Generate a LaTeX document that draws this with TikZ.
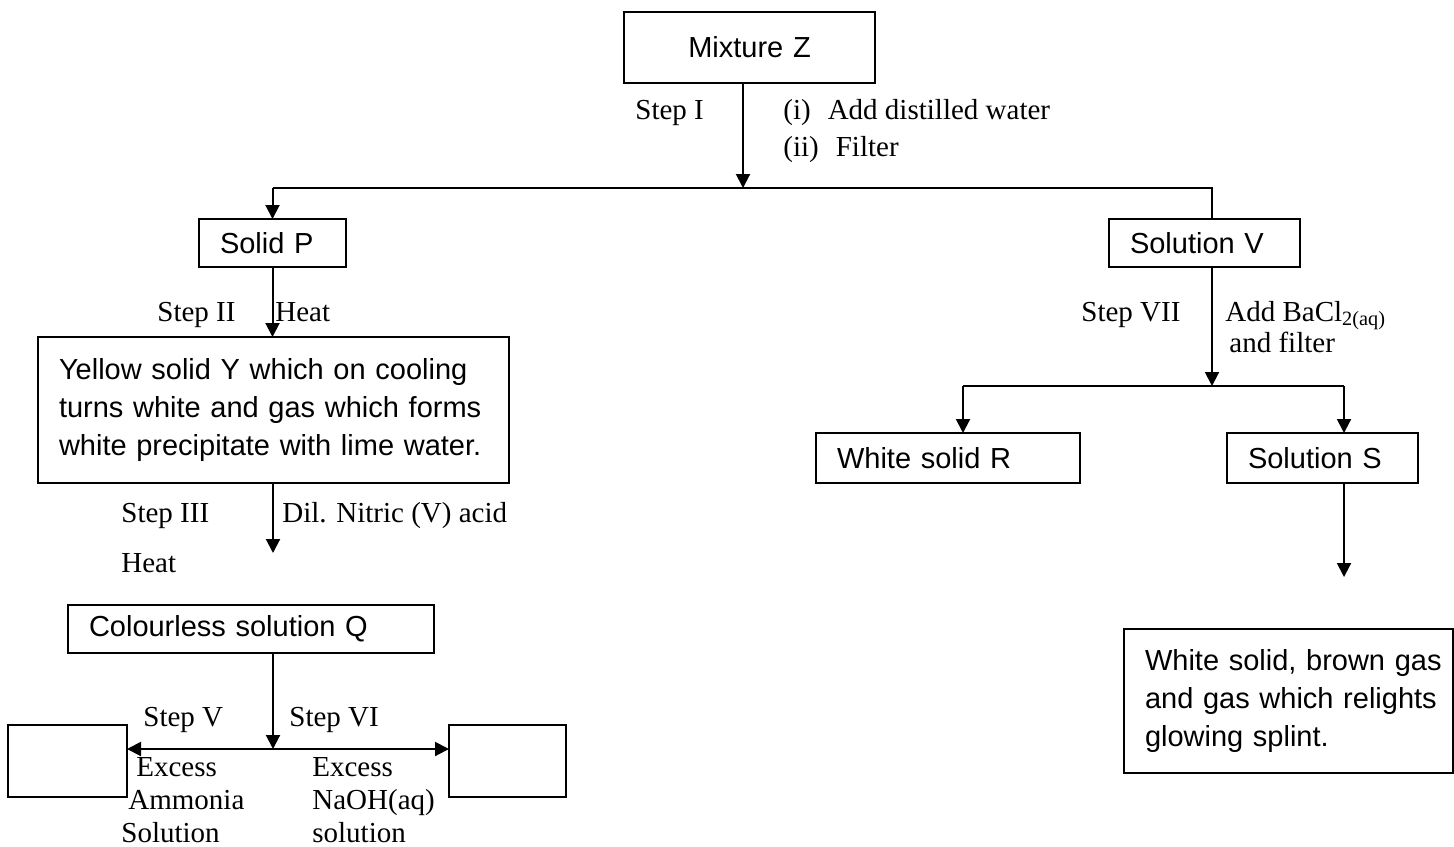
\documentclass[tikz,border=0pt]{standalone}
\usepackage{fontspec}
\setmainfont{Liberation Serif}
\newfontfamily\boxfont{Liberation Sans}
\usetikzlibrary{arrows.meta}

\begin{document}
\begin{tikzpicture}[x=0.5pt, y=-0.5pt]
  \tikzset{stage/.style = {draw, line width=0.75pt, anchor=north west, inner xsep=10.5pt, inner ysep=0pt, outer sep=0pt, align=left, font=\boxfont\fontsize{14.5}{19}\selectfont}}
  \tikzset{cond/.style = {anchor=base west, inner sep=0pt, font=\fontsize{14.5}{17}\selectfont}}
  \tikzset{flow/.style = {line width=1pt, -{Triangle[length=7pt,width=7pt]}}}
  \tikzset{link/.style = {line width=1pt}}
  \useasboundingbox (0,0) rectangle (1454,846);

  % boxes
  \node[stage, align=center, minimum width=125.5pt, minimum height=35.5pt, text width=104.5pt] (mixZ) at (624,12) {Mixture Z};
  \node[stage, minimum width=73.5pt, minimum height=24pt, text width=52.5pt] (solidP) at (199,219) {Solid P};
  \node[stage, minimum width=95.5pt, minimum height=24pt, text width=74.5pt] (solV) at (1109,219) {Solution V};
  \node[stage, minimum width=235.5pt, minimum height=73pt, text width=214.5pt] (yellow) at (38,337)
    {Yellow solid Y which on cooling\\turns white and gas which forms\\white precipitate with lime water.};
  \node[stage, minimum width=132pt, minimum height=25pt, text width=111pt] (whiteR) at (816,433) {White solid R};
  \node[stage, minimum width=95.5pt, minimum height=25pt, text width=74.5pt] (solS) at (1227,433) {Solution S};
  \node[stage, minimum width=183pt, minimum height=24pt, text width=162pt] (colQ) at (68,605) {Colourless solution Q};
  \node[stage, minimum width=59.5pt, minimum height=36pt] (blankL) at (8,725) {};
  \node[stage, minimum width=58.5pt, minimum height=36pt] (blankR) at (449,725) {};
  \node[stage, minimum width=164.5pt, minimum height=72pt, text width=143.5pt] (final) at (1124,629)
    {\mbox{White solid, brown gas}\\\mbox{and gas which relights}\\glowing splint.};

  % junctions and loose arrow ends
  \coordinate (split1) at (743,188);
  \coordinate (rjoin) at (1212,188);
  \coordinate (tip3) at (273,553);
  \coordinate (split5) at (273,749);
  \coordinate (split7) at (1212,386);
  \coordinate (rl) at (963,386);
  \coordinate (rr) at (1344,386);
  \coordinate (tip8) at (1344,577);

  % connectors
  \draw[flow] (split1 |- mixZ.south) -- (split1);
  \draw[link] (solidP.north |- split1) -- (rjoin) -- (rjoin |- solV.north);
  \draw[flow] (solidP.north |- split1) -- (solidP.north);
  \draw[flow] (solidP.south) -- (solidP.south |- yellow.north);
  \draw[flow] (tip3 |- yellow.south) -- (tip3);
  \draw[flow] (split5 |- colQ.south) -- (split5);
  \draw[flow] (split5) -- (split5 -| blankL.east);
  \draw[flow] (split5) -- (split5 -| blankR.west);
  \draw[flow] (split7 |- solV.south) -- (split7);
  \draw[link] (rl) -- (rr);
  \draw[flow] (rl) -- (rl |- whiteR.north);
  \draw[flow] (rr) -- (rr |- solS.north);
  \draw[flow] (rr |- solS.south) -- (tip8);

  % step labels
  \node[cond] (s1) at (635,119.5) {Step I};
  \node[cond] (s1a) at (783,119.5) {(i)\hspace{8.5pt}Add distilled water};
  \node[cond] (s1b) at (783,156.5) {(ii)\hspace{8.5pt}Filter};
  \node[cond] (s2) at (157,321.5) {Step II};
  \node[cond] (s2a) at (275,321.5) {Heat};
  \node[cond] (s7) at (1081,321.5) {Step VII};
  \node[cond] (s7a) at (1225,321.5) {Add BaCl\textsubscript{2(aq)}};
  \node[cond] (s7b) at (1229,352.5) {and filter};
  \node[cond] (s3) at (121,522.5) {Step III};
  \node[cond] (s3a) at (282,522.5) {Dil. Nitric (V) acid};
  \node[cond] (s3b) at (121,572.5) {Heat};
  \node[cond] (s5) at (143,726.5) {Step V};
  \node[cond] (s6) at (289,726.5) {Step VI};
  \node[cond] (s5a) at (136,776.5) {Excess};
  \node[cond] (s5b) at (128,809.5) {Ammonia};
  \node[cond] (s5c) at (121,842.5) {Solution};
  \node[cond] (s6a) at (312,776.5) {Excess};
  \node[cond] (s6b) at (312,809.5) {NaOH(aq)};
  \node[cond] (s6c) at (312,842.5) {solution};
\end{tikzpicture}
\end{document}
